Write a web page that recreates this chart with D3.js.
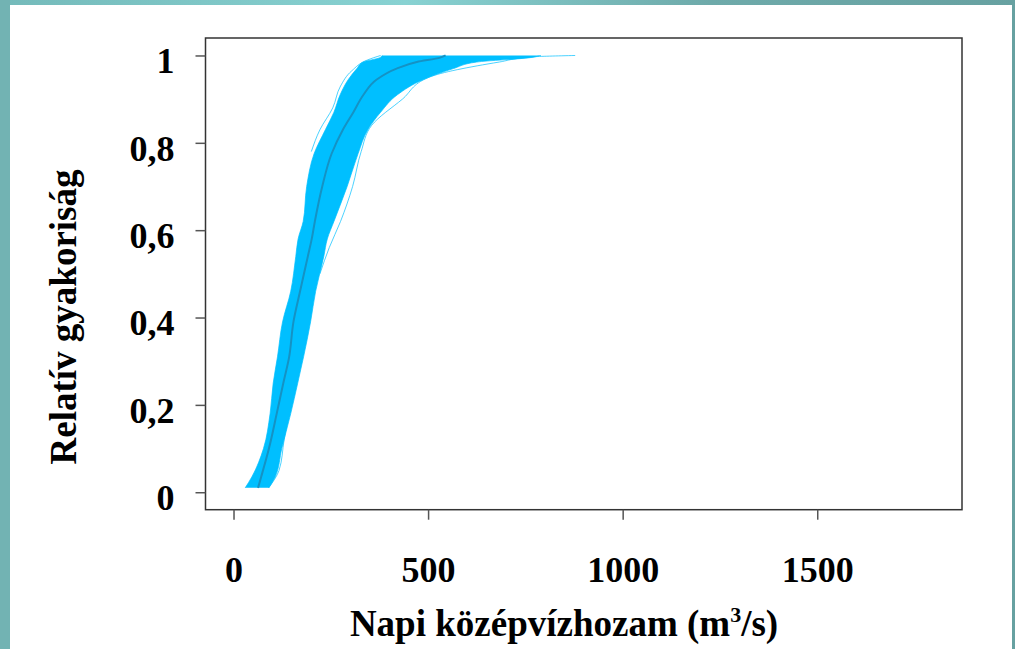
<!DOCTYPE html>
<html>
<head>
<meta charset="utf-8">
<script src="https://cdn.jsdelivr.net/npm/d3@7"></script>
<style>
  body { margin: 0; background: #fff; }
  svg { display: block; }
  .axis text { font-family: 'Liberation Serif', 'Times New Roman', serif; font-weight: bold; font-size: 36px; fill: #000; }
  .axis line { stroke: #555; stroke-width: 1.5; }
  .title { font-family: 'Liberation Serif', 'Times New Roman', serif; font-weight: bold; font-size: 37px; fill: #000; }
</style>
</head>
<body>
<script>
// cumulative probability levels and the flow value (m3/s) where each curve reaches them
const probs   = [0.01, 0.035, 0.10, 0.18, 0.25, 0.31, 0.39, 0.46, 0.54, 0.58, 0.62, 0.70, 0.775, 0.83, 0.87, 0.91, 0.945, 0.97, 0.985, 0.995, 1.0];
const lowerX  = [30, 47, 77, 94, 102, 113, 126, 147, 160, 166, 179, 188, 207, 236, 258, 274, 295, 317, 333, 376, 382];
const medianX = [63, 71, 91, 111, 128, 143, 154, 171, 191, 201, 209, 228, 252, 281, 308, 334, 368, 419, 471, 531, 545];
const upperX  = [91, 107, 124, 147, 165, 180, 198, 211, 232, 241, 258, 292, 320, 345, 378, 421, 488, 565, 625, 762, 790];

// a few single curves that stick out of the band
const strayRightP = [0.50, 0.56, 0.62, 0.70, 0.78, 0.84, 0.90, 0.95, 0.985, 0.997, 1.0];
const strayRightX = [222, 246, 275, 306, 328, 355, 434, 502, 683, 770, 878];
const strayLeftP  = [0.78, 0.83, 0.88, 0.93, 0.965, 0.99, 1.0];
const strayLeftX  = [200, 222, 255, 275, 304, 345, 378];
const strayLowP   = [0.01, 0.05, 0.12, 0.20];
const strayLowX   = [90, 117, 130, 146];

const xTicks = [0, 500, 1000, 1500];
const yTicks = [0, 0.2, 0.4, 0.6, 0.8, 1];
const yTickLabels = ['0', '0,2', '0,4', '0,6', '0,8', '1'];

const W = 1015, H = 649;
const boxL = 205.5, boxR = 962, boxT = 38, boxB = 509.7;

const svg = d3.select('body').append('svg')
  .attr('width', W)
  .attr('height', H);

// teal frame
const defs = svg.append('defs');
const grad = defs.append('linearGradient').attr('id', 'frame')
  .attr('x1', 0).attr('y1', 0).attr('x2', 1).attr('y2', 0);
grad.append('stop').attr('offset', '0%').attr('stop-color', '#74baba');
grad.append('stop').attr('offset', '40%').attr('stop-color', '#88d2d2');
grad.append('stop').attr('offset', '70%').attr('stop-color', '#6eaaaa');
grad.append('stop').attr('offset', '100%').attr('stop-color', '#67a1a1');
svg.append('rect').attr('width', W).attr('height', H).attr('fill', 'url(#frame)');
svg.append('rect').attr('x', 0).attr('y', 0).attr('width', 10).attr('height', H).attr('fill', '#72b3b3');
svg.append('rect').attr('x', 10).attr('y', 5).attr('width', 1002).attr('height', H - 5).attr('fill', '#fff');

const x = d3.scaleLinear().domain([-72, 1872]).range([boxL, boxR]);
const y = d3.scaleLinear().domain([-0.04, 1.04]).range([boxB, boxT]);

const band = probs.map((p, i) => ({ p, lo: lowerX[i], med: medianX[i], hi: upperX[i] }));

const area = d3.area()
  .curve(d3.curveMonotoneY)
  .y((d) => y(d.p))
  .x0((d) => x(d.lo))
  .x1((d) => x(d.hi));

const line = d3.line()
  .curve(d3.curveMonotoneY)
  .x((d) => x(d[1]))
  .y((d) => y(d[0]));

const plot = svg.append('g');

plot.append('path')
  .datum(band)
  .attr('d', area)
  .attr('fill', '#00bfff');

const edges = [
  band.map((d) => [d.p, d.lo]),
  band.map((d) => [d.p, d.hi]),
  strayRightP.map((p, i) => [p, strayRightX[i]]),
  strayLeftP.map((p, i) => [p, strayLeftX[i]]),
  strayLowP.map((p, i) => [p, strayLowX[i]])
];

plot.selectAll('.stray')
  .data(edges).enter()
  .append('path')
  .attr('class', 'stray')
  .attr('d', line)
  .attr('fill', 'none')
  .attr('stroke', '#00bfff')
  .attr('stroke-opacity', 0.7)
  .attr('stroke-width', 1);

plot.append('path')
  .datum(band.map((d) => [d.p, d.med]))
  .attr('d', line)
  .attr('fill', 'none')
  .attr('stroke', '#1592c4')
  .attr('stroke-width', 2);

// box
svg.append('rect')
  .attr('x', boxL).attr('y', boxT)
  .attr('width', boxR - boxL).attr('height', boxB - boxT)
  .attr('fill', 'none')
  .attr('stroke', '#333')
  .attr('stroke-width', 1.5);

svg.append('g')
  .attr('class', 'axis')
  .attr('transform', `translate(${boxL}, 0)`)
  .call(d3.axisLeft(y).tickValues(yTicks).tickSize(10).tickPadding(21)
    .tickFormat((d, i) => yTickLabels[i]))
  .call((g) => g.select('.domain').remove())
  .call((g) => g.selectAll('text').attr('dy', '0.48em'));

svg.append('g')
  .attr('class', 'axis')
  .attr('transform', `translate(0, ${boxB})`)
  .call(d3.axisBottom(x).tickValues(xTicks).tickSize(10).tickPadding(37)
    .tickFormat(d3.format('d')))
  .call((g) => g.select('.domain').remove());

const xt = svg.append('text')
  .attr('class', 'title')
  .attr('x', 564)
  .attr('y', 636)
  .attr('text-anchor', 'middle');
xt.append('tspan').text('Napi középvízhozam (m');
xt.append('tspan').attr('dy', -14).style('font-size', '22px').text('3');
xt.append('tspan').attr('dy', 14).text('/s)');

svg.append('text')
  .attr('class', 'title')
  .attr('transform', 'translate(76, 317) rotate(-90)')
  .attr('text-anchor', 'middle')
  .text('Relatív gyakoriság');
</script>
</body>
</html>
